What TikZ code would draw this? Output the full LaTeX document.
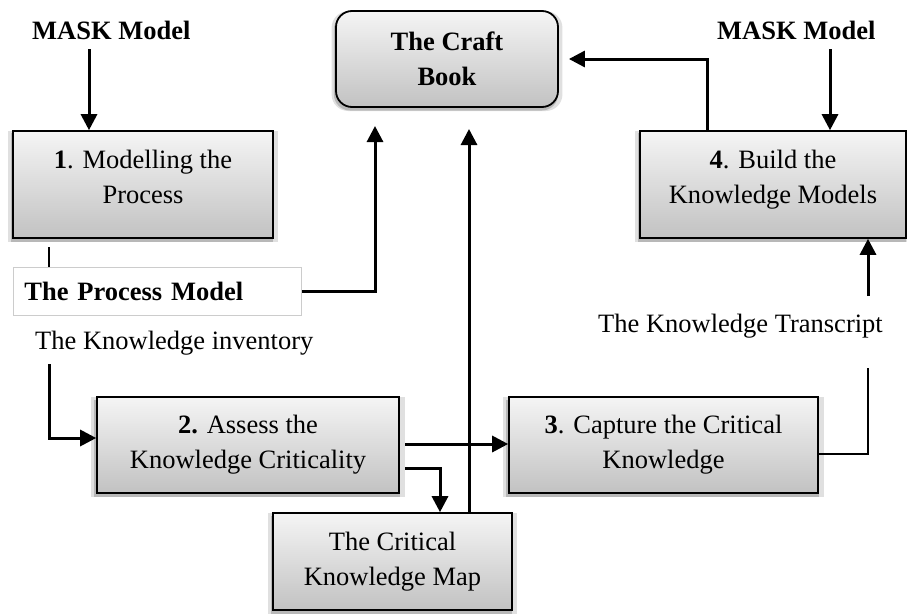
\documentclass[tikz,border=0pt]{standalone}
\usepackage{fontspec}
\setmainfont{Liberation Serif}
\usetikzlibrary{arrows.meta,shadows,calc}
\begin{document}
\begin{tikzpicture}[x=1pt,y=-1pt,
  font=\fontsize{26.5}{35}\selectfont,
  softshadow/.style={
    drop shadow={shadow xshift=0pt,shadow yshift=-2pt,shadow scale=1.04,opacity=0.12,fill=black},
    drop shadow={shadow xshift=-1pt,shadow yshift=-3pt,shadow scale=1.01,opacity=0.18,fill=black}},
  procbox/.style={draw=black,line width=1.6pt,top color=gray!8,bottom color=gray!48,
    softshadow,align=center,inner sep=0pt},
  craftbox/.style={procbox,rounded corners=16pt,line width=1.8pt},
  pmbox/.style={draw=gray!40,line width=0.8pt,fill=white,align=left,inner sep=0pt},
  lbl/.style={inner sep=0pt},
  arr/.style={line width=3pt,-{Triangle[length=16pt,width=16pt]}},
  ln/.style={line width=2.8pt}
]
\useasboundingbox (0,0) rectangle (907,613);

% boxes
\node[craftbox,minimum width=222pt,minimum height=96pt] (craft) at (447,59) {\textbf{The Craft}\\\textbf{Book}};
\node[procbox,minimum width=260pt,minimum height=107pt] (box1) at (143,184.5) {\textbf{1}. Modelling the\\Process\\[-19pt]};
\node[procbox,minimum width=266pt,minimum height=107pt] (box4) at (773,184.5) {\textbf{4}. Build the\\Knowledge Models\\[-19pt]};
\node[procbox,minimum width=302pt,minimum height=96pt] (box2) at (248,445) {\textbf{2.} Assess the\\Knowledge Criticality};
\node[procbox,minimum width=309pt,minimum height=96pt] (box3) at (663.5,445) {\textbf{3}. Capture the Critical\\Knowledge};
\node[procbox,minimum width=239pt,minimum height=97pt] (map) at (392.5,561.5) {The Critical\\Knowledge Map};
\node[pmbox,anchor=west,minimum width=288pt,minimum height=48pt,text width=266pt,inner xsep=11pt] (pm) at (13,291) {\textbf{The Process Model}};

% labels
\node[lbl,anchor=base west] (maskL) at (32,39) {\textbf{MASK Model}};
\node[lbl,anchor=base west] (maskR) at (717,39) {\textbf{MASK Model}};
\node[lbl,anchor=base west] (inv) at (35,349) {The Knowledge inventory};
\node[lbl,anchor=base west] (trans) at (598,332) {The Knowledge Transcript};

% connectors
\coordinate (m1) at (89,49);
\draw[arr] (m1) -- (box1.north -| m1);
\coordinate (m4) at (830,49);
\draw[arr] (m4) -- (box4.north -| m4);

\coordinate (b1s) at (49,247);
\draw[line width=2.4pt] (b1s) -- (pm.north -| b1s);

\coordinate (pmc) at (375,126);
\draw[arr] (pm.east) -| (pmc);

\coordinate (b4n) at (707,131);
\draw[arr] (b4n) |- ([xshift=10pt]craft.east);

\coordinate (trs) at (868,296);
\draw[arr] (trs) -- (box4.south -| trs);

\coordinate (trb) at (868,368);
\draw[ln] (box3.east |- 0,454) -| (trb);

\coordinate (invs) at (49,364);
\draw[arr] (invs) |- (box2.west |- 0,438);

\coordinate (b2a) at (405,444);
\draw[arr] (b2a) -- (box3.west |- b2a);

\coordinate (b2b) at (405,468);
\coordinate (b2m) at (440,468);
\draw[arr] (b2b) -- (b2m) -- (map.north -| b2m);

\coordinate (mapup) at (469,129);
\draw[arr] (map.north -| mapup) -- (mapup);
\end{tikzpicture}
\end{document}
